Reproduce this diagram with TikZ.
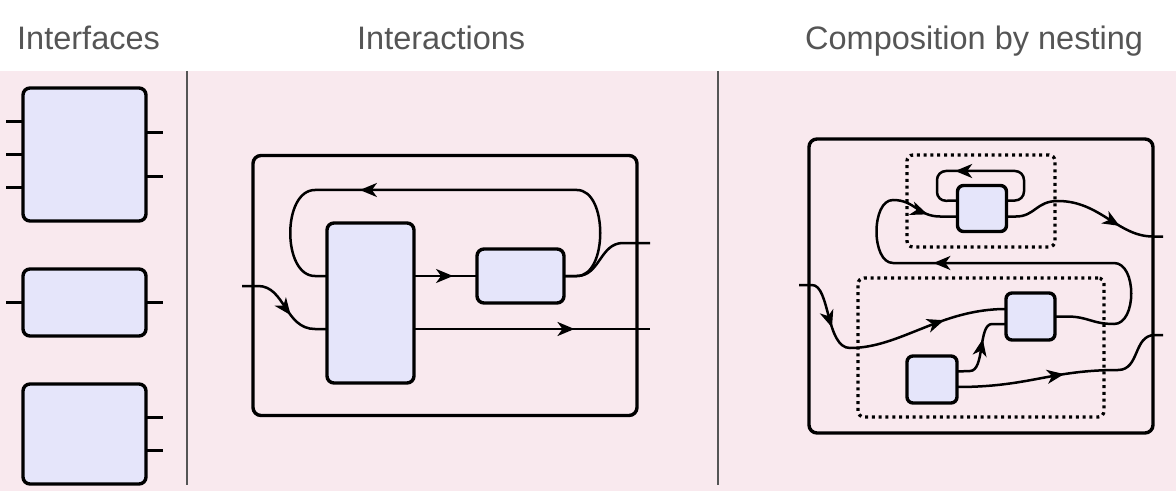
\documentclass[tikz,border=0pt]{standalone}
\usepackage{fontspec}
\setmainfont{Liberation Sans}
\usetikzlibrary{arrows.meta,decorations.markings}
\definecolor{bgpink}{RGB}{249,233,238}
\definecolor{boxfill}{RGB}{229,229,250}
\definecolor{titlegray}{RGB}{85,85,85}
\begin{document}
\begin{tikzpicture}[x=1pt,y=1pt,
		blk/.style={draw=black,fill=boxfill,line width=3.4pt,rounded corners=7pt,inner sep=0pt,outer sep=0pt},
		frm/.style={draw=black,line width=3.4pt,rounded corners=8pt,inner sep=0pt,outer sep=0pt},
		grp/.style={draw=black,line width=3.3pt,dash pattern=on 3pt off 3.8pt,rounded corners=6pt,inner sep=0pt,outer sep=0pt},
		wire/.style={draw=black,line width=2.5pt},
		arr/.style={postaction={decorate,decoration={markings,mark=at position #1 with {\arrow{Stealth[length=17pt,width=14pt,inset=5pt]}}}}},
		divider/.style={draw=titlegray,line width=2.2pt},
		ttl/.style={anchor=base west,text=titlegray,font=\fontsize{32.5}{39}\selectfont,inner sep=0pt}
	]
	\useasboundingbox (0,0) rectangle (1176,491);
	\fill[white] (0,0) rectangle (1176,491);
	\fill[bgpink] (0,0) rectangle (1176,420);

	% titles
	\node[ttl] (tIf) at (17,441) {Interfaces};
	\node[ttl] (tAc) at (357,441) {Interactions};
	\node[ttl] (tNe) at (805,441) {Composition by nesting};

	\draw[divider] (187,420) -- (187,6);
	\draw[divider] (718,420) -- (718,6);

	% interfaces
	\node[blk,minimum width=123pt,minimum height=133pt] (I1) at (84.5,336.5) {};
	\node[blk,minimum width=123pt,minimum height=67pt] (I2) at (84.5,188.5) {};
	\node[blk,minimum width=123pt,minimum height=100pt] (I3) at (84.5,57) {};
	\draw[wire] ([yshift=33pt]I1.west) -- ++(-17,0);
	\draw[wire] (I1.west) -- ++(-17,0);
	\draw[wire] ([yshift=-33pt]I1.west) -- ++(-17,0);
	\draw[wire] ([yshift=22pt]I1.east) -- ++(17,0);
	\draw[wire] ([yshift=-22pt]I1.east) -- ++(17,0);
	\draw[wire] (I2.west) -- ++(-17,0);
	\draw[wire] (I2.east) -- ++(17,0);
	\draw[wire] ([yshift=16.5pt]I3.east) -- ++(17,0);
	\draw[wire] ([yshift=-16.5pt]I3.east) -- ++(17,0);

	% interactions
	\node[frm,minimum width=384pt,minimum height=260pt] (F1) at (445,205.5) {};
	\node[blk,minimum width=87pt,minimum height=160pt] (P) at (370.5,188) {};
	\node[blk,minimum width=87pt,minimum height=54pt] (Q) at (520.5,215) {};
	\coordinate (inM) at (242,205);
	\coordinate (outM1) at (650,248);
	\coordinate (outM2) at (650,162);
	\draw[wire,arr=0.67] (Q.east) -- (577,215) .. controls (608,215) and (608,301) .. (577,301)
		-- (315,301) .. controls (282,301) and (282,215) .. (315,215) -- ([yshift=27pt]P.west);
	\draw[wire] (Q.east) -- (577,215) .. controls (600,215) and (600,248) .. (623,248) -- (outM1);
	\draw[wire,arr=0.6] (inM) -- (258,205) .. controls (285,205) and (285,162) .. (315,162) -- ([yshift=-26pt]P.west);
	\draw[wire,arr=0.62] ([yshift=27pt]P.east) -- (Q.west);
	\draw[wire,arr=0.68] ([yshift=-26pt]P.east) -- (outM2);

	% composition by nesting
	\node[frm,minimum width=344pt,minimum height=294pt] (F2) at (981,205) {};
	\node[grp,minimum width=148pt,minimum height=92pt] (G1) at (981,290) {};
	\node[grp,minimum width=246pt,minimum height=139pt] (G2) at (981,143.5) {};
	\node[blk,rounded corners=6pt,minimum width=49pt,minimum height=46pt] (A) at (982,282.5) {};
	\node[blk,rounded corners=6pt,minimum width=49pt,minimum height=47pt] (B) at (1030.5,174.5) {};
	\node[blk,rounded corners=6pt,minimum width=50pt,minimum height=47pt] (C) at (932,111.5) {};
	\coordinate (inN) at (799,206);
	\coordinate (outN1) at (1163,254.5);
	\coordinate (outN2) at (1163,156);
	\draw[wire,rounded corners=9pt,arr=0.64] ([yshift=8pt]A.east) -| (1024,320) -| (937,290) -- ([yshift=8pt]A.west);
	\draw[wire,arr=0.63,arr=0.94] (B.east) -- (1067,174.5) .. controls (1088,174.5) and (1092,167) .. (1114,167)
		.. controls (1137,167) and (1137,228) .. (1114,228) -- (893,228)
		.. controls (871,228) and (871,291) .. (893,291) .. controls (915,291) and (918,274.5) .. (940,274.5)
		-- ([yshift=-8pt]A.west);
	\draw[wire,arr=0.73] ([yshift=-8pt]A.east) -- (1016,274.5) .. controls (1035,274.5) and (1036,290) .. (1058,290)
		.. controls (1100,290) and (1118,254.5) .. (1153,254.5) -- (outN1);
	\draw[wire,arr=0.245,arr=0.75] (inN) -- (812,206) .. controls (830,206) and (826,143) .. (850,143)
		.. controls (900,143) and (940,182) .. ([yshift=7.5pt]B.west);
	\draw[wire,arr=0.6] ([yshift=8pt]C.east) -- (970,120) .. controls (985,120) and (978,167) .. (992,167) -- ([yshift=-7.5pt]B.west);
	\draw[wire,arr=0.48] ([yshift=-7.5pt]C.east) .. controls (1030,104) and (1050,121) .. (1118,121)
		.. controls (1140,121) and (1133,156) .. (1155,156) -- (outN2);
\end{tikzpicture}
\end{document}
